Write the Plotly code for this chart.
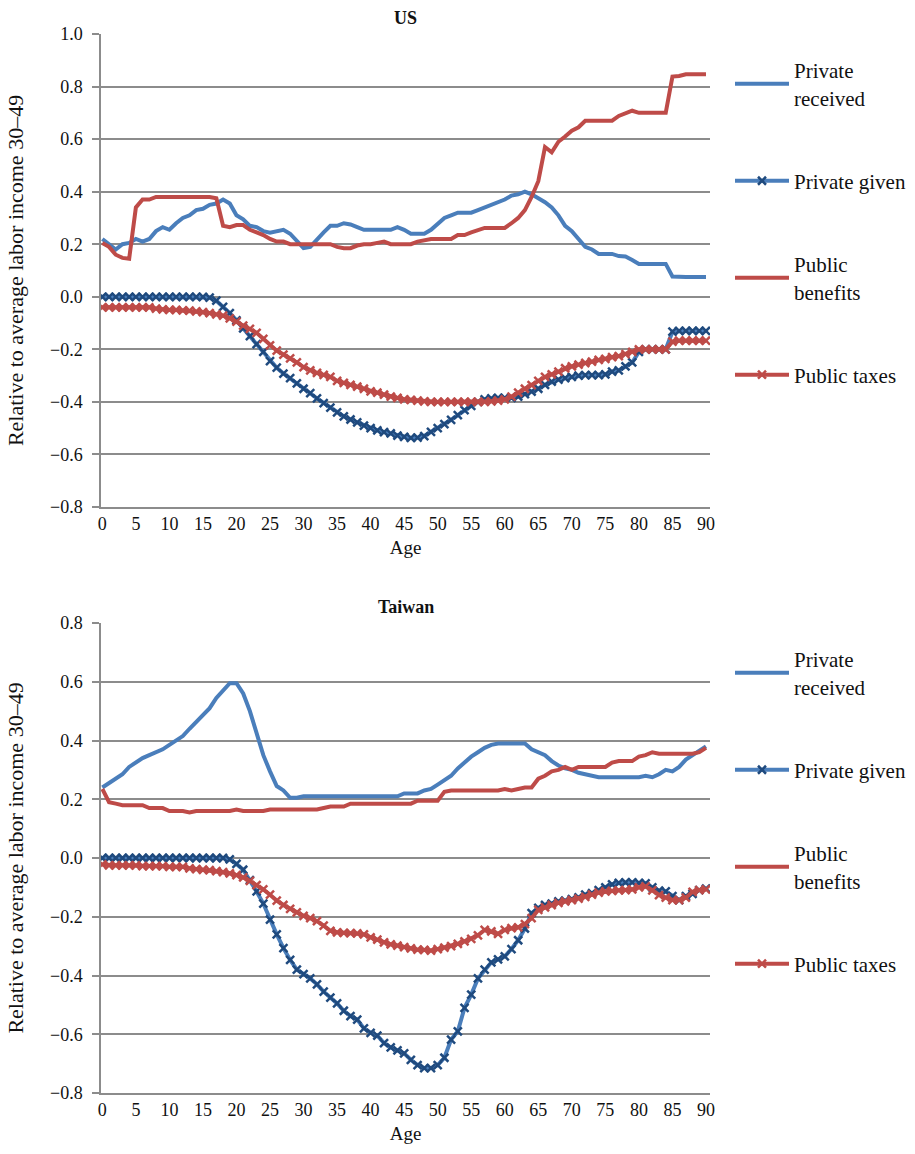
import plotly.graph_objects as go

ages = list(range(91))

# ---- US ----
us_private_received = [
    0.220, 0.200, 0.180, 0.200, 0.205, 0.220, 0.210, 0.220, 0.250, 0.265,
    0.255, 0.280, 0.300, 0.310, 0.330, 0.335, 0.350, 0.355, 0.370, 0.355,
    0.310, 0.295, 0.270, 0.265, 0.250, 0.244, 0.250, 0.255, 0.240, 0.215,
    0.185, 0.190, 0.220, 0.245, 0.270, 0.270, 0.280, 0.275, 0.265, 0.255,
    0.255, 0.255, 0.255, 0.255, 0.265, 0.255, 0.240, 0.240, 0.240, 0.255,
    0.280, 0.300, 0.310, 0.320, 0.320, 0.320, 0.330, 0.340, 0.350, 0.360,
    0.370, 0.385, 0.390, 0.400, 0.390, 0.375, 0.360, 0.340, 0.310, 0.270,
    0.250, 0.220, 0.190, 0.180, 0.163, 0.163, 0.163, 0.155, 0.153, 0.140,
    0.125, 0.125, 0.125, 0.125, 0.125, 0.077, 0.075, 0.075, 0.075, 0.075,
    0.075]

us_private_given = [
    0.000, 0.000, 0.000, 0.000, 0.000, 0.000, 0.000, 0.000, 0.000, 0.000,
    0.000, 0.000, 0.000, 0.000, 0.000, 0.000, -0.003, -0.015, -0.038, -0.062,
    -0.090, -0.120, -0.150, -0.180, -0.210, -0.245, -0.270, -0.292, -0.310, -0.330,
    -0.350, -0.367, -0.387, -0.405, -0.422, -0.440, -0.455, -0.467, -0.478, -0.490,
    -0.500, -0.508, -0.515, -0.520, -0.528, -0.533, -0.537, -0.536, -0.530, -0.514,
    -0.500, -0.485, -0.468, -0.450, -0.431, -0.415, -0.400, -0.390, -0.387, -0.385,
    -0.385, -0.385, -0.380, -0.370, -0.361, -0.350, -0.335, -0.323, -0.315, -0.310,
    -0.305, -0.300, -0.298, -0.298, -0.298, -0.295, -0.285, -0.280, -0.265, -0.250,
    -0.210, -0.200, -0.200, -0.200, -0.200, -0.133, -0.130, -0.130, -0.130, -0.130,
    -0.130]

us_public_benefits = [
    0.205, 0.190, 0.160, 0.148, 0.145, 0.340, 0.370, 0.370, 0.380, 0.380,
    0.380, 0.380, 0.380, 0.380, 0.380, 0.380, 0.380, 0.375, 0.270, 0.265,
    0.273, 0.273, 0.255, 0.245, 0.235, 0.220, 0.210, 0.210, 0.200, 0.200,
    0.200, 0.200, 0.200, 0.200, 0.200, 0.190, 0.185, 0.185, 0.195, 0.200,
    0.200, 0.205, 0.210, 0.200, 0.200, 0.200, 0.200, 0.210, 0.215, 0.220,
    0.220, 0.220, 0.220, 0.235, 0.235, 0.245, 0.255, 0.262, 0.262, 0.262,
    0.262, 0.280, 0.300, 0.330, 0.380, 0.440, 0.570, 0.550, 0.590, 0.610,
    0.632, 0.645, 0.670, 0.670, 0.670, 0.670, 0.670, 0.688, 0.700, 0.708,
    0.700, 0.700, 0.700, 0.700, 0.700, 0.838, 0.840, 0.847, 0.847, 0.847,
    0.847]

us_public_taxes = [
    -0.040, -0.040, -0.040, -0.040, -0.040, -0.040, -0.040, -0.040, -0.045, -0.048,
    -0.050, -0.050, -0.052, -0.053, -0.056, -0.058, -0.062, -0.067, -0.072, -0.082,
    -0.095, -0.110, -0.122, -0.137, -0.160, -0.185, -0.205, -0.220, -0.234, -0.250,
    -0.268, -0.280, -0.290, -0.297, -0.305, -0.320, -0.328, -0.335, -0.342, -0.350,
    -0.360, -0.365, -0.372, -0.380, -0.385, -0.390, -0.392, -0.395, -0.398, -0.400,
    -0.400, -0.400, -0.400, -0.400, -0.400, -0.400, -0.400, -0.400, -0.398, -0.395,
    -0.390, -0.380, -0.365, -0.350, -0.336, -0.320, -0.305, -0.295, -0.285, -0.272,
    -0.265, -0.258, -0.252, -0.247, -0.240, -0.236, -0.230, -0.226, -0.218, -0.210,
    -0.200, -0.200, -0.200, -0.200, -0.200, -0.171, -0.167, -0.167, -0.167, -0.167,
    -0.167]

# ---- Taiwan ----
tw_private_received = [
    0.240, 0.255, 0.270, 0.285, 0.310, 0.325, 0.340, 0.350, 0.360, 0.370,
    0.385, 0.400, 0.415, 0.440, 0.465, 0.490, 0.510, 0.545, 0.570, 0.595,
    0.595, 0.560, 0.500, 0.420, 0.350, 0.295, 0.245, 0.230, 0.205, 0.205,
    0.210, 0.210, 0.210, 0.210, 0.210, 0.210, 0.210, 0.210, 0.210, 0.210,
    0.210, 0.210, 0.210, 0.210, 0.210, 0.220, 0.220, 0.220, 0.230, 0.235,
    0.250, 0.265, 0.280, 0.305, 0.325, 0.345, 0.360, 0.375, 0.385, 0.390,
    0.390, 0.390, 0.390, 0.390, 0.370, 0.360, 0.350, 0.330, 0.315, 0.305,
    0.300, 0.290, 0.285, 0.280, 0.275, 0.275, 0.275, 0.275, 0.275, 0.275,
    0.275, 0.280, 0.275, 0.285, 0.300, 0.295, 0.310, 0.335, 0.350, 0.365,
    0.380]

tw_private_given = [
    0.000, 0.000, 0.000, 0.000, 0.000, 0.000, 0.000, 0.000, 0.000, 0.000,
    0.000, 0.000, 0.000, 0.000, 0.000, 0.000, 0.000, 0.000, 0.000, -0.005,
    -0.020, -0.040, -0.075, -0.114, -0.155, -0.210, -0.260, -0.307, -0.347, -0.380,
    -0.395, -0.410, -0.430, -0.455, -0.475, -0.495, -0.520, -0.538, -0.550, -0.580,
    -0.595, -0.605, -0.630, -0.645, -0.655, -0.665, -0.687, -0.705, -0.715, -0.715,
    -0.705, -0.680, -0.618, -0.590, -0.510, -0.465, -0.410, -0.380, -0.355, -0.345,
    -0.335, -0.310, -0.280, -0.240, -0.188, -0.170, -0.160, -0.155, -0.148, -0.145,
    -0.140, -0.134, -0.125, -0.120, -0.109, -0.100, -0.090, -0.085, -0.083, -0.083,
    -0.085, -0.086, -0.100, -0.111, -0.114, -0.130, -0.143, -0.130, -0.122, -0.109,
    -0.104]

tw_public_benefits = [
    0.235, 0.190, 0.185, 0.180, 0.180, 0.180, 0.180, 0.170, 0.170, 0.170,
    0.160, 0.160, 0.160, 0.155, 0.160, 0.160, 0.160, 0.160, 0.160, 0.160,
    0.165, 0.160, 0.160, 0.160, 0.160, 0.165, 0.165, 0.165, 0.165, 0.165,
    0.165, 0.165, 0.165, 0.170, 0.175, 0.175, 0.175, 0.185, 0.185, 0.185,
    0.185, 0.185, 0.185, 0.185, 0.185, 0.185, 0.185, 0.195, 0.195, 0.195,
    0.195, 0.225, 0.230, 0.230, 0.230, 0.230, 0.230, 0.230, 0.230, 0.230,
    0.235, 0.230, 0.235, 0.240, 0.240, 0.270, 0.280, 0.295, 0.300, 0.310,
    0.300, 0.310, 0.310, 0.310, 0.310, 0.310, 0.325, 0.330, 0.330, 0.330,
    0.345, 0.350, 0.360, 0.355, 0.355, 0.355, 0.355, 0.355, 0.355, 0.360,
    0.375]

tw_public_taxes = [
    -0.022, -0.025, -0.025, -0.025, -0.025, -0.025, -0.028, -0.028, -0.028, -0.028,
    -0.030, -0.030, -0.030, -0.035, -0.038, -0.040, -0.041, -0.045, -0.048, -0.052,
    -0.058, -0.066, -0.078, -0.092, -0.107, -0.125, -0.145, -0.160, -0.173, -0.185,
    -0.197, -0.205, -0.215, -0.230, -0.248, -0.253, -0.255, -0.256, -0.257, -0.260,
    -0.270, -0.278, -0.287, -0.294, -0.298, -0.303, -0.308, -0.312, -0.313, -0.315,
    -0.310, -0.305, -0.300, -0.292, -0.284, -0.275, -0.263, -0.245, -0.250, -0.258,
    -0.245, -0.239, -0.236, -0.225, -0.205, -0.177, -0.168, -0.160, -0.153, -0.148,
    -0.143, -0.138, -0.132, -0.125, -0.118, -0.114, -0.112, -0.110, -0.109, -0.107,
    -0.100, -0.097, -0.110, -0.126, -0.135, -0.143, -0.143, -0.135, -0.115, -0.109,
    -0.107]

series_names = ["Private<br>received", "Private given", "Public<br>benefits", "Public taxes"]

us_ticks = [1.0, 0.8, 0.6, 0.4, 0.2, 0.0, -0.2, -0.4, -0.6, -0.8]
tw_ticks = [0.8, 0.6, 0.4, 0.2, 0.0, -0.2, -0.4, -0.6, -0.8]
age_ticks = list(range(0, 91, 5))

BLUE = "#4A7EBB"
NAVY = "#1F4A7E"
RED = "#BE4B48"
GRID = "#8C8C8C"
FONT = "Liberation Serif"
INK = "#111111"

# page geometry (pixels)
W, H = 915.0, 1154.0
ML, MR, MT, MB = 101, 205, 34, 61
PW, PH = W - ML - MR, H - MT - MB


def px_x(x):
    return (x - ML) / PW


def px_y(y):
    return (H - MB - y) / PH


def tick_text(v):
    s = f"{abs(v):.1f}"
    return ("\u2212" + s) if v < 0 else s


def add_panel(fig, xa, ya, legend, rec, giv, ben, tax):
    common = dict(x=ages, xaxis=xa, yaxis=ya, legend=legend)
    fig.add_trace(go.Scatter(y=rec, name=series_names[0], mode="lines",
                             line=dict(color=BLUE, width=4), legendgroup=legend + "a",
                             **common))
    fig.add_trace(go.Scatter(y=giv, name=series_names[1], mode="lines+markers",
                             line=dict(color=BLUE, width=4),
                             marker=dict(symbol="x-thin", size=8,
                                         line=dict(color=NAVY, width=2.5)),
                             legendgroup=legend + "b", **common))
    fig.add_trace(go.Scatter(y=ben, name=series_names[2], mode="lines",
                             line=dict(color=RED, width=4), legendgroup=legend + "c",
                             **common))
    fig.add_trace(go.Scatter(y=tax, name=series_names[3], mode="lines+markers",
                             line=dict(color=RED, width=4),
                             marker=dict(symbol="x-thin", size=8,
                                         line=dict(color=RED, width=2.5)),
                             legendgroup=legend + "d", **common))


fig = go.Figure()
add_panel(fig, "x", "y", "legend", us_private_received, us_private_given,
          us_public_benefits, us_public_taxes)
add_panel(fig, "x2", "y2", "legend2", tw_private_received, tw_private_given,
          tw_public_benefits, tw_public_taxes)


def yaxis(top_px, bottom_px, ticks, rng):
    return dict(
        domain=[px_y(bottom_px), px_y(top_px)], range=rng, automargin=False,
        tickvals=ticks, ticktext=[tick_text(t) for t in ticks],
        showgrid=True, gridcolor=GRID, gridwidth=1.5,
        showline=True, linecolor=GRID, linewidth=1.5,
        ticks="outside", ticklen=7, tickcolor=GRID, tickwidth=1.5,
        ticklabelstandoff=6,
        zeroline=False, tickfont=dict(family=FONT, size=18, color=INK),
        title=dict(text="Relative to average labor income 30\u201349",
                   font=dict(family=FONT, size=22, color=INK), standoff=20),
    )


def xaxis(anchor):
    return dict(
        domain=[0, 1], range=[-0.2, 90.6], anchor=anchor, automargin=False,
        tickvals=age_ticks, ticktext=[str(a) for a in age_ticks],
        showgrid=False, showline=True, linecolor=GRID, linewidth=1.5,
        ticks="", zeroline=False,
        tickfont=dict(family=FONT, size=18, color=INK),
        title=dict(text="Age", font=dict(family=FONT, size=19, color=INK), standoff=7),
    )


legend_common = dict(
    xanchor="left", yanchor="top", bgcolor="rgba(0,0,0,0)",
    font=dict(family=FONT, size=21, color=INK),
    tracegroupgap=53, itemwidth=54, traceorder="grouped",
)

fig.update_layout(
    width=915, height=1154,
    margin=dict(l=ML, r=MR, t=MT, b=MB, autoexpand=False),
    paper_bgcolor="white", plot_bgcolor="white",
    font=dict(family=FONT),
    xaxis=xaxis("y"), yaxis=yaxis(34, 507, us_ticks, [-0.8, 1.0]),
    xaxis2=xaxis("y2"), yaxis2=yaxis(623, 1093, tw_ticks, [-0.8, 0.8]),
    legend=dict(x=px_x(730), y=px_y(50), **legend_common),
    legend2=dict(x=px_x(730), y=px_y(639), **legend_common),
    annotations=[
        dict(text="<b>US</b>", x=0.5, y=px_y(18),
             xref="paper", yref="paper", showarrow=False, yanchor="middle",
             font=dict(family=FONT, size=18, color=INK)),
        dict(text="<b>Taiwan</b>", x=0.5, y=px_y(607),
             xref="paper", yref="paper", showarrow=False, yanchor="middle",
             font=dict(family=FONT, size=18, color=INK)),
    ],
)

fig.write_html("out.html", post_script="document.body.style.margin='0';")
